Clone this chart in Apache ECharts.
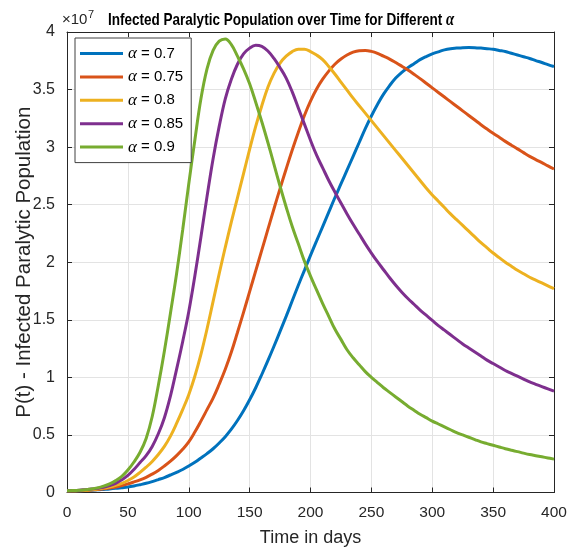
<!DOCTYPE html>
<html>
<head>
<meta charset="utf-8">
<script src="https://cdn.jsdelivr.net/npm/echarts@6/dist/echarts.min.js"></script>
<style>
  html, body { margin: 0; padding: 0; background: #ffffff; }
  #chart { width: 577px; height: 557px; }
</style>
</head>
<body>
<div id="chart"></div>
<script>
// ---- Data (values in units of 10^7), sampled every 5 days from 0 to 400 ----
const days = Array.from({length: 81}, function (_, i) { return i * 5; });

const alpha070 = [0.015,0.015,0.016,0.018,0.020,0.023,0.027,0.031,0.036,0.042,0.048,0.057,0.068,0.080,0.095,0.112,0.13,0.152,0.175,0.20,
                  0.23,0.263,0.30,0.338,0.38,0.43,0.485,0.55,0.625,0.71,0.805,0.91,1.025,1.145,1.27,1.40,1.53,1.665,1.80,1.93,
                  2.06,2.185,2.31,2.435,2.56,2.68,2.80,2.92,3.04,3.16,3.27,3.37,3.46,3.535,3.60,3.65,3.69,3.725,3.76,3.787,
                  3.81,3.828,3.845,3.855,3.86,3.864,3.865,3.864,3.86,3.855,3.85,3.84,3.83,3.815,3.80,3.785,3.77,3.752,3.735,3.717,3.70];
const alpha075 = [0.015,0.015,0.016,0.018,0.022,0.026,0.032,0.039,0.048,0.060,0.075,0.092,0.11,0.132,0.16,0.192,0.23,0.272,0.32,0.375,
                  0.44,0.525,0.62,0.72,0.82,0.94,1.07,1.22,1.39,1.565,1.745,1.925,2.105,2.285,2.465,2.64,2.81,2.975,3.13,3.275,
                  3.40,3.505,3.59,3.66,3.72,3.765,3.80,3.825,3.838,3.84,3.832,3.815,3.79,3.765,3.735,3.703,3.67,3.633,3.595,3.555,
                  3.515,3.475,3.435,3.395,3.355,3.315,3.275,3.235,3.195,3.157,3.12,3.085,3.05,3.017,2.985,2.952,2.92,2.892,2.865,2.837,2.81];
const alpha080 = [0.015,0.016,0.017,0.020,0.024,0.030,0.038,0.048,0.062,0.080,0.104,0.135,0.175,0.22,0.27,0.33,0.40,0.49,0.60,0.72,
                  0.85,1.01,1.20,1.42,1.66,1.90,2.13,2.35,2.56,2.77,2.98,3.18,3.36,3.52,3.64,3.73,3.79,3.83,3.85,3.85,
                  3.83,3.80,3.76,3.70,3.635,3.565,3.495,3.425,3.36,3.295,3.23,3.165,3.10,3.035,2.97,2.905,2.84,2.775,2.71,2.645,
                  2.585,2.53,2.475,2.42,2.37,2.32,2.27,2.22,2.17,2.125,2.08,2.04,2.00,1.965,1.93,1.90,1.87,1.845,1.82,1.795,1.77];
const alpha085 = [0.015,0.017,0.020,0.025,0.030,0.037,0.045,0.060,0.080,0.110,0.148,0.20,0.26,0.32,0.40,0.51,0.65,0.84,1.07,1.31,
                  1.57,1.88,2.22,2.57,2.90,3.18,3.42,3.59,3.72,3.81,3.86,3.885,3.875,3.835,3.77,3.69,3.60,3.48,3.34,3.20,
                  3.06,2.93,2.82,2.71,2.61,2.515,2.42,2.33,2.245,2.16,2.08,2.005,1.935,1.865,1.80,1.74,1.685,1.635,1.585,1.54,
                  1.495,1.45,1.41,1.37,1.33,1.29,1.255,1.22,1.185,1.15,1.12,1.09,1.06,1.035,1.01,0.985,0.96,0.94,0.92,0.90,0.88];
const alpha090 = [0.015,0.017,0.020,0.024,0.030,0.040,0.055,0.075,0.103,0.14,0.195,0.265,0.35,0.47,0.66,0.93,1.23,1.56,1.90,2.28,
                  2.68,3.06,3.42,3.68,3.84,3.92,3.94,3.89,3.79,3.68,3.55,3.39,3.22,3.04,2.85,2.66,2.48,2.31,2.16,2.01,
                  1.88,1.76,1.64,1.53,1.42,1.33,1.24,1.17,1.11,1.05,1.00,0.955,0.91,0.87,0.83,0.79,0.75,0.715,0.68,0.65,
                  0.62,0.595,0.57,0.545,0.52,0.50,0.48,0.46,0.44,0.425,0.41,0.395,0.38,0.367,0.355,0.342,0.33,0.32,0.31,0.30,0.29];

const seriesNames = ['α = 0.7','α = 0.75','α = 0.8','α = 0.85','α = 0.9'];
const seriesValues = [alpha070, alpha075, alpha080, alpha085, alpha090];
const seriesColors = ['#0072BD','#D95319','#EDB120','#7E2F8E','#77AC30'];

const xTicks = {min: 0, max: 400, interval: 50};
const yTicks = {min: 0, max: 4, interval: 0.5};

const SANS = "'Liberation Sans',Arial,Helvetica,sans-serif";
const SERIF = "'Liberation Serif','DejaVu Serif',serif";
const AXC = '#262626';

const chart = echarts.init(document.getElementById('chart'), null, {renderer: 'canvas'});

const baseAxis = {
  axisLine: {show: true, onZero: false, lineStyle: {color: AXC, width: 1}},
  axisTick: {show: true, inside: true, length: 5, lineStyle: {color: AXC}},
};

chart.setOption({
  backgroundColor: '#ffffff',
  animation: false,
  graphic: [
    {
      type: 'text', x: 281, y: 20, scaleX: 0.82, z: 10,
      style: {
        text: 'Infected Paralytic Population over Time for Different {a|α}',
        align: 'center', verticalAlign: 'middle',
        font: "bold 16.5px " + SANS, fill: '#000',
        rich: {a: {fontFamily: SERIF, fontStyle: 'italic', fontWeight: 'bold', fontSize: 18, fill: '#000'}}
      }
    },
    {
      type: 'text', left: 62, top: 12, z: 10,
      style: {text: '×10', font: "15px " + SANS, fill: AXC}
    },
    {
      type: 'text', left: 88, top: 9, z: 10,
      style: {text: '7', font: "11px " + SANS, fill: AXC}
    }
  ],
  grid: {left: 67, top: 32, width: 487, height: 460.5, containLabel: false},
  legend: {
    orient: 'vertical', left: 75, top: 38,
    padding: [7, 8, 7, 5],
    backgroundColor: '#ffffff', borderColor: '#404040', borderWidth: 1,
    icon: 'rect', itemWidth: 43, itemHeight: 3, itemGap: 6.4,
    data: seriesNames,
    formatter: function (name) { return '{a|α}' + name.slice(1); },
    textStyle: {
      fontFamily: SANS, fontSize: 15, color: '#000', lineHeight: 16,
      rich: {a: {fontFamily: SERIF, fontStyle: 'italic', fontSize: 17, lineHeight: 16, color: '#000'}}
    }
  },
  xAxis: [
    Object.assign({}, baseAxis, {
      type: 'value', position: 'bottom', min: xTicks.min, max: xTicks.max, interval: xTicks.interval,
      name: 'Time in days', nameLocation: 'middle', nameGap: 37, nameMoveOverlap: false,
      nameTextStyle: {fontFamily: SANS, fontSize: 18, color: AXC},
      axisLabel: {margin: 12, fontFamily: SANS, fontSize: 15.5, color: AXC},
      splitLine: {show: true, lineStyle: {color: '#e3e3e3', width: 1}}
    }),
    Object.assign({}, baseAxis, {
      type: 'value', position: 'top', min: xTicks.min, max: xTicks.max, interval: xTicks.interval,
      axisLabel: {show: false}, splitLine: {show: false}
    })
  ],
  yAxis: [
    Object.assign({}, baseAxis, {
      type: 'value', position: 'left', min: yTicks.min, max: yTicks.max, interval: yTicks.interval,
      name: 'P(t) - Infected Paralytic Population', nameLocation: 'middle', nameGap: 32, nameMoveOverlap: false,
      nameTextStyle: {fontFamily: SANS, fontSize: 20.5, color: AXC},
      axisLabel: {margin: 12, fontFamily: SANS, fontSize: 16, color: AXC},
      splitLine: {show: true, lineStyle: {color: '#e3e3e3', width: 1}}
    }),
    Object.assign({}, baseAxis, {
      type: 'value', position: 'right', min: yTicks.min, max: yTicks.max, interval: yTicks.interval,
      axisLabel: {show: false}, splitLine: {show: false}
    })
  ],
  series: seriesNames.map(function (nm, k) {
    return {
      name: nm, type: 'line', xAxisIndex: 0, yAxisIndex: 0,
      data: days.map(function (d, i) { return [d, seriesValues[k][i]]; }),
      showSymbol: false, smooth: 0.4,
      lineStyle: {color: seriesColors[k], width: 3},
      itemStyle: {color: seriesColors[k]},
      emphasis: {disabled: true}
    };
  })
});
</script>
</body>
</html>
